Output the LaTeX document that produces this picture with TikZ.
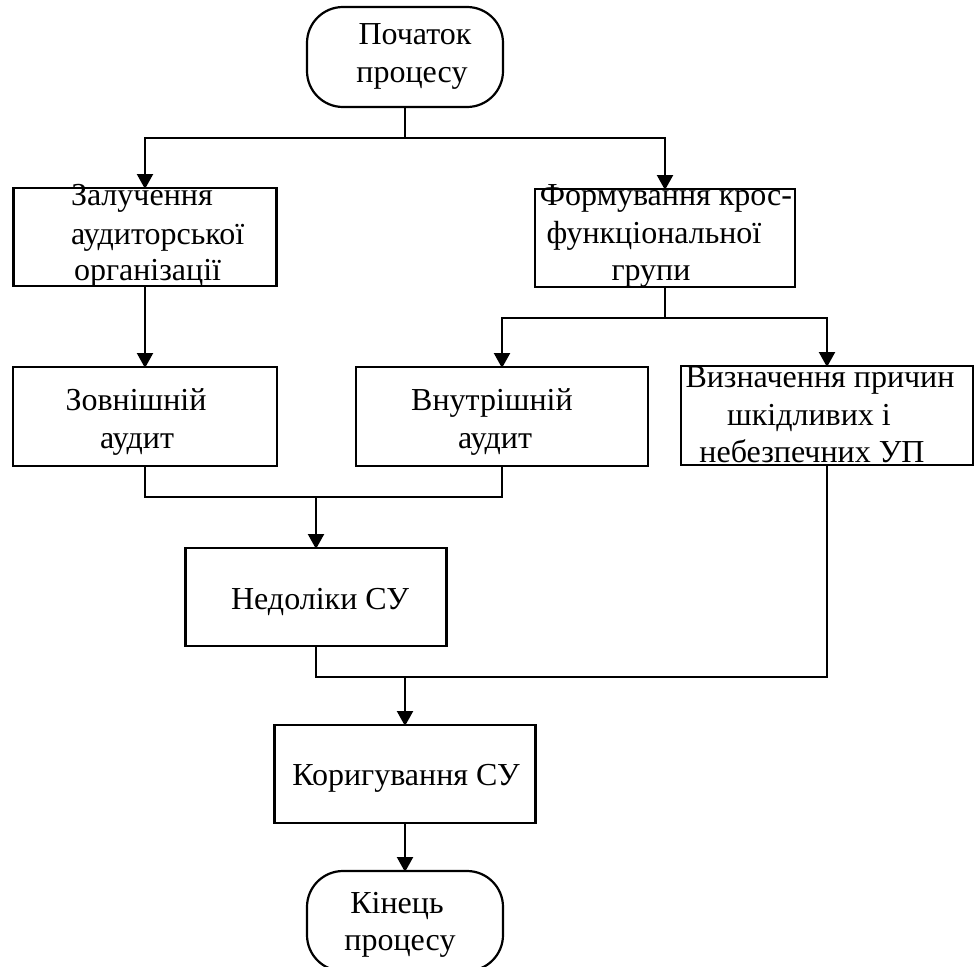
\documentclass[tikz,border=0pt]{standalone}
\usepackage{fontspec}
\setmainfont{Liberation Serif}
\usetikzlibrary{arrows.meta}

\tikzset{
  box/.style={draw, line width=2.8pt, rectangle, inner sep=0pt, outer sep=0pt},
  term/.style={draw, line width=2.2pt, rectangle, rounded corners=36pt, inner sep=0pt, outer sep=0pt,
    minimum width=196pt, minimum height=100pt},
  lbl/.style={inner sep=0pt, outer sep=0pt, anchor=base, font=\fontsize{32}{38}\selectfont},
  lblw/.style={lbl, anchor=base west},
  conn/.style={line width=2.2pt},
  arr/.style={conn, -{Triangle[width=16pt,length=15pt]}, shorten >=-1pt}
}

\begin{document}
\begin{tikzpicture}[x=1pt, y=-1pt]
\useasboundingbox (0,0) rectangle (974,966);
\clip (0,0) rectangle (974,966);

% blocks
\node[term] (start) at (405,57) {};
\node[box, minimum width=263pt, minimum height=98pt] (zal)   at (145,237) {};
\node[box, minimum width=260pt, minimum height=98pt] (form)  at (665,238) {};
\node[box, minimum width=264pt, minimum height=99pt] (zovn)  at (145,416.5) {};
\node[box, minimum width=292pt, minimum height=99pt] (vnutr) at (502,416.5) {};
\node[box, minimum width=292pt, minimum height=99pt] (vyzn)  at (827,415.5) {};
\node[box, minimum width=261pt, minimum height=98pt] (nedol) at (316,597) {};
\node[box, minimum width=261pt, minimum height=98pt] (koryg) at (405,774) {};
\node[term] (finish) at (405,921) {};

% labels
\node[lbl] (startA) at (415,45) {Початок};
\node[lbl] (startB) at (412,82) {процесу};
\node[lblw] (zalA) at (71,205) {Залучення};
\node[lblw] (zalB) at (71,244) {аудиторської};
\node[lblw] (zalC) at (74,280) {організації};
\node[lbl] (formA) at (666,205) {Формування крос-};
\node[lbl] (formB) at (654,243) {функціональної};
\node[lbl] (formC) at (651,280) {групи};
\node[lbl] (zovnA) at (136,410) {Зовнішній};
\node[lbl] (zovnB) at (137,448) {аудит};
\node[lbl] (vnutrA) at (492,410) {Внутрішній};
\node[lbl] (vnutrB) at (495,448) {аудит};
\node[lbl] (vyznA) at (820,387) {Визначення причин};
\node[lbl] (vyznB) at (809,425) {шкідливих і};
\node[lbl] (vyznC) at (812,462) {небезпечних УП};
\node[lbl] (nedolA) at (320,609) {Недоліки СУ};
\node[lbl] (korygA) at (406,785) {Коригування СУ};
\node[lbl] (finA) at (397,913) {Кінець};
\node[lbl] (finB) at (400,950) {процесу};

% junction points
\coordinate (j1) at (start.south |- 0,138);
\coordinate (j2) at (form.south |- 0,318);
\coordinate (j3) at (nedol.north |- 0,497);
\coordinate (j4) at (koryg.north |- 0,677);

% connectors
\draw[conn] (start.south) -- (j1);
\draw[arr] (j1) -| (zal.north);
\draw[arr] (j1) -| (form.north);
\draw[arr] (zal.south) -- (zovn.north);
\draw[conn] (form.south) -- (j2);
\draw[arr] (j2) -| (vnutr.north);
\draw[arr] (j2) -| (vyzn.north);
\draw[conn] (zovn.south) |- (j3);
\draw[conn] (vnutr.south) |- (j3);
\draw[arr] (j3) -- (nedol.north);
\draw[conn] (nedol.south) |- (j4);
\draw[conn] (vyzn.south) |- (j4);
\draw[arr] (j4) -- (koryg.north);
\draw[arr] (koryg.south) -- (finish.north);
\end{tikzpicture}
\end{document}
